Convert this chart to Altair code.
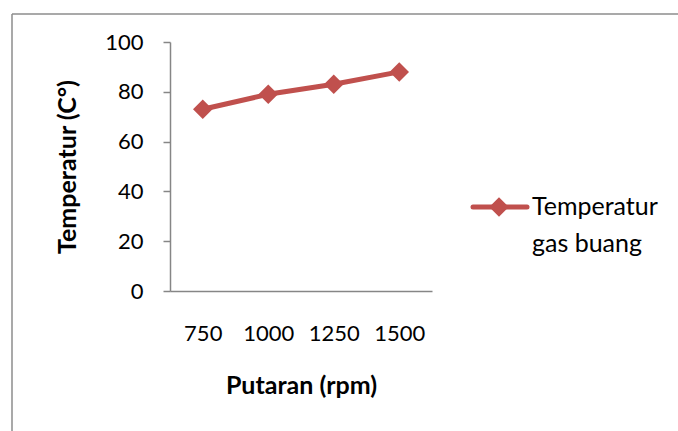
import altair as alt
import pandas as pd

rpm = ["750", "1000", "1250", "1500"]
temp = [73, 79, 83, 88]
series_name = ["Temperatur", "gas buang"]

RED = "#C0504D"
FONT = "Lato"
GREY = "#868686"

df = pd.DataFrame({"rpm": rpm, "temp": temp})

x = alt.X("rpm:N", sort=rpm, title="Putaran (rpm)",
          scale=alt.Scale(paddingInner=0, paddingOuter=0),
          axis=alt.Axis(labelAngle=0, ticks=False, labelPadding=32,
                        labelFontSize=22, labelFont=FONT, labelColor="#000",
                        titleFont=FONT, titleFontSize=25, titleFontWeight="bold",
                        titlePadding=29, domainColor=GREY, domainWidth=1.5,
                        labelBaseline="top"))
y = alt.Y("temp:Q", title="Temperatur (C°)",
          scale=alt.Scale(domain=[0, 100], nice=False),
          axis=alt.Axis(values=[0, 20, 40, 60, 80, 100], grid=False,
                        tickSize=7, tickColor=GREY, tickWidth=1.5,
                        domainColor=GREY, domainWidth=1.5,
                        labelPadding=20, labelFontSize=22, labelFont=FONT,
                        labelColor="#000", titleFont=FONT, titleFontSize=25,
                        titleFontWeight="bold", titlePadding=24))

base = alt.Chart(df).encode(x=x, y=y)
line = base.mark_line(color=RED, strokeWidth=5)
pts = base.mark_point(shape="diamond", filled=True, color=RED, size=380, opacity=1)

one = pd.DataFrame({"a": [0]})

# manual legend
leg_line = alt.Chart(one).mark_rule(
    color=RED, strokeWidth=5, strokeCap="round").encode(
    x=alt.value(303), x2=alt.value(357), y=alt.value(165))
leg_pt = alt.Chart(one).mark_point(
    shape="diamond", filled=True, color=RED, size=380, opacity=1).encode(
    x=alt.value(329), y=alt.value(165))
leg_txt1 = alt.Chart(one).mark_text(
    align="left", baseline="middle", font=FONT, fontSize=25, color="#000",
    text=series_name[0]).encode(x=alt.value(362), y=alt.value(165))
leg_txt2 = alt.Chart(one).mark_text(
    align="left", baseline="middle", font=FONT, fontSize=25, color="#000",
    text=series_name[1]).encode(x=alt.value(362), y=alt.value(202))

# outer frame
frame_l = alt.Chart(one).mark_rule(color="#8c8c8c", strokeWidth=1.5).encode(
    x=alt.value(-158), y=alt.value(-28), y2=alt.value(400))
frame_t = alt.Chart(one).mark_rule(color="#8c8c8c", strokeWidth=1.5).encode(
    x=alt.value(-158), x2=alt.value(520), y=alt.value(-28))

chart = alt.layer(frame_l, frame_t, line, pts, leg_line, leg_pt, leg_txt1, leg_txt2).properties(
    width=262, height=249,
    autosize=alt.AutoSizeParams(type="none"),
    padding={"left": 170, "top": 42, "right": 246, "bottom": 140},
).configure_view(stroke=None)

chart.save("out.html", embed_options={"renderer": "svg", "actions": False})
